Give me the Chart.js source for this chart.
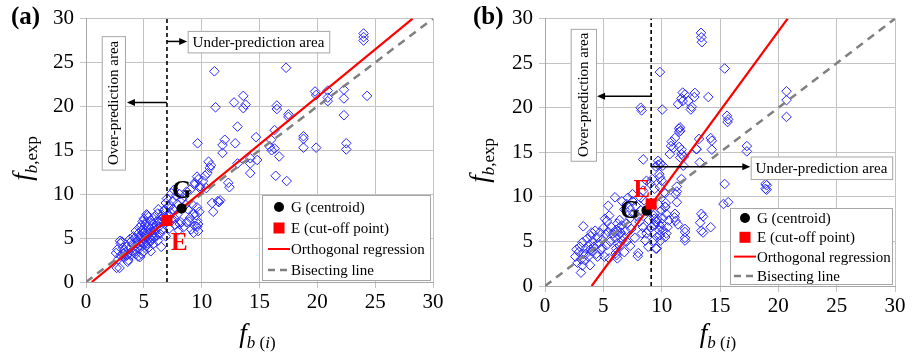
<!DOCTYPE html>
<html lang="en">
<head>
<meta charset="UTF-8">
<title>Orthogonal regression</title>
<script src="https://cdn.jsdelivr.net/npm/chart.js"></script>
<style>
  body { margin: 0; background: #fff; }
  .panel { position: absolute; top: 0; height: 355px; }
  #pa { left: 0; width: 455px; }
  #pb { left: 455px; width: 460px; }
</style>
</head>
<body>
<div class="panel" id="pa"><canvas id="chartA"></canvas></div>
<div class="panel" id="pb"><canvas id="chartB"></canvas></div>
<script>
// ---- data ----
const axisTicks = [0, 5, 10, 15, 20, 25, 30];

// panel (a): predicted f_b(i) and measured f_b,exp
const predA = [24.0,24.0,24.0,11.1,17.3,11.2,12.8,13.6,13.8,13.6,16.5,16.5,17.5,17.5,19.8,19.9,20.9,20.9,20.9,22.3,22.3,22.3,24.3,
  13.1,14.7,12.0,11.8,12.9,11.8,9.65,16.0,15.9,16.05,16.3,16.7,16.3,18.8,18.8,18.8,19.9,22.5,22.5,
  14.2,14.2,14.8,13.1,14.2,16.4,17.35,12.3,12.4,10.6,10.8,10.7,10.5,10.3,9.6,9.7,9.4,10.9,11.0,11.4,11.6,11.5,10.1,9.85,10.4,
  8.6,8.8,9.3,9.0,9.6,8.7,9.4,9.7,9.1,8.4,8.1,9.6,9.5,9.8,9.2,8.0,9.7,9.3,8.9,9.6,
  7.4,7.8,7.5,7.3,8.1,8.3,8.7,9.0,9.85,9.4,8.5,7.9,7.0,6.8,
  2.6,2.7,2.8,2.9,3.0,3.0,3.1,3.2,3.3,3.4,3.5,3.6,3.7,3.8,3.9,4.0,4.1,4.2,4.3,4.4,4.5,4.5,4.6,4.6,4.7,4.7,4.8,4.8,4.9,4.9,
  5.0,5.0,5.0,5.1,5.1,5.2,5.2,5.3,5.3,5.4,5.4,5.5,5.5,5.6,5.6,5.7,5.8,5.8,5.9,6.0,6.0,6.1,6.2,6.2,6.3,6.4,6.5,6.5,6.6,6.7,
  6.8,6.9,7.0,7.1,7.2,7.4,7.5,7.7,7.9,8.2,4.3,4.8,5.2,5.6,6.1,4.0,3.6,5.9,6.3,4.5,5.0,5.4,5.8,3.3,4.9,6.6,7.3,
  2.65,3.66,5.6,4.67,5.24,6.25,2.94,
  3.2,3.9,4.2,4.4,4.6,4.8,5.1,5.3,5.6,5.9,6.1,6.4,6.8,7.2,7.6,5.0,4.2,3.5,6.9,7.6];
const expA = [28.3,27.9,27.5,24.0,24.4,19.9,20.45,21.2,20.2,19.8,20.1,19.7,19.1,18.8,21.7,21.3,21.8,21.0,20.6,21.9,20.9,19.0,21.2,
  17.7,16.5,16.2,15.6,15.8,14.7,15.8,16.2,15.4,15.0,15.2,14.3,17.3,16.6,16.3,15.3,15.3,15.8,15.1,
  14.1,13.5,13.9,13.5,12.4,12.1,11.5,11.3,10.8,13.7,13.3,13.0,12.4,12.1,12.0,11.7,11.3,9.0,8.0,9.2,9.3,9.1,11.5,10.7,10.7,
  8.8,8.3,7.7,7.3,7.0,6.8,6.4,5.8,6.0,6.2,6.6,6.3,7.6,8.0,8.8,5.9,6.6,5.6,6.9,8.5,
  10.1,9.8,9.2,8.7,10.0,9.4,10.3,10.5,10.9,11.1,9.8,8.9,9.5,8.2,
  3.3,3.7,2.6,1.6,3.0,4.4,4.6,3.9,2.8,3.4,4.0,2.3,3.7,4.9,3.1,4.3,5.2,3.6,5.8,4.7,2.9,5.5,6.2,3.8,4.2,5.0,3.2,6.5,5.6,4.6,
  3.5,6.0,7.2,4.9,5.3,6.8,4.1,7.6,5.7,3.9,6.3,4.5,5.0,7.0,6.1,5.4,4.3,6.6,7.4,5.1,5.9,6.9,4.7,7.8,6.3,5.5,7.2,4.0,6.0,8.1,
  6.6,5.2,7.6,8.6,6.1,7.0,8.3,6.5,7.7,6.8,3.2,5.9,5.1,4.8,6.4,3.5,3.1,5.6,7.0,4.4,4.3,7.4,5.0,3.6,6.9,7.6,7.9,
  1.6,2.5,3.5,2.85,7.7,8.28,4.7,
  3.2,4.6,5.0,3.9,5.2,4.5,6.5,4.4,5.7,6.2,5.3,6.7,7.2,7.5,7.3,5.6,4.1,3.0,9.0,10.5];

// panel (b)
const predB = [13.37,13.4,13.45,9.85,15.4,8.2,8.28,10.05,11.8,12.0,11.7,11.8,11.4,12.28,12.57,12.5,12.85,12.8,14.0,
  15.6,15.7,15.65,20.7,20.7,20.7,11.5,11.5,11.14,10.86,10.8,11.0,10.7,11.5,11.7,11.7,11.6,11.9,
  13.2,12.97,13.26,14.2,14.3,14.3,17.3,17.3,19.0,19.0,15.4,15.3,15.7,13.4,13.55,13.3,13.4,13.55,14.2,12.0,12.0,12.0,12.0,
  11.3,11.14,11.2,11.4,11.1,11.7,11.3,11.3,11.2,11.85,10.2,10.35,10.3,
  8.42,8.7,8.4,6.0,5.42,5.14,5.5,3.28,3.08,8.0,7.95,6.14,6.2,6.07,9.57,3.86,
  9.7,9.9,10.1,9.8,9.85,10.0,9.4,9.85,10.3,
  9.4,9.35,9.55,10.0,9.8,10.1,9.85,9.5,9.3,8.85,8.7,9.1,8.6,8.85,8.3,8.4,10.3,10.4,10.6,10.4,10.3,9.9,
  6.2,6.4,6.1,6.5,6.3,6.0,6.6,6.2,6.4,6.1,6.6,6.0,6.7,5.8,6.4,
  2.6,2.8,2.9,3.0,3.1,3.2,3.3,3.4,3.5,3.6,3.7,3.8,3.9,4.0,4.1,4.2,4.3,4.4,4.5,4.6,4.7,4.8,4.9,5.0,5.1,5.2,5.3,5.4,5.5,5.6,
  2.7,3.9,4.5,5.3,5.7,4.0,3.5,4.9,3.2,
  7.2,7.5,7.1,7.8,7.3,7.6,7.0,7.9,8.2,7.4,6.8,7.0,6.9,8.1,7.7,7.3,7.0,6.8,8.5,8.2,7.5,6.6,
  9.2,9.0,9.5,9.7,11.57,11.6,13.0,18.9,18.9,
  9.6,9.9,10.1,9.4,9.6,10.0,9.7,10.5,8.9,9.3];
const expB = [28.4,27.9,27.35,24.0,24.4,20.0,19.7,19.8,21.7,21.5,21.05,20.75,20.4,20.75,20.1,19.8,21.66,21.2,21.2,
  19.1,18.7,18.4,21.85,20.85,18.97,17.65,17.3,16.6,16.2,15.7,15.5,14.8,15.6,15.3,14.8,14.4,14.5,
  16.5,15.35,13.86,16.6,16.3,15.3,15.7,15.1,11.3,10.8,11.45,9.2,9.4,8.1,7.8,7.1,6.2,6.0,6.6,6.4,6.05,5.4,5.1,
  9.4,8.1,7.3,6.9,7.7,12.0,11.15,10.6,10.3,13.5,10.5,9.3,8.9,
  14.2,11.8,10.7,9.95,9.0,7.55,7.9,6.7,1.5,3.7,3.35,3.46,3.1,3.7,4.2,2.34,
  14.05,13.7,13.5,12.55,12.2,11.8,10.9,11.1,10.4,
  8.1,7.55,7.2,7.0,6.25,6.25,5.7,4.2,5.1,6.25,5.9,6.6,5.1,4.4,5.9,6.6,8.85,8.1,7.35,5.9,5.5,5.1,
  7.0,6.6,6.3,6.0,5.7,5.4,5.1,4.8,4.5,4.2,6.8,6.0,5.6,5.9,7.4,
  3.3,2.6,3.8,4.4,3.0,4.9,3.6,2.9,4.2,5.3,3.3,4.6,5.6,3.9,5.0,4.4,6.2,3.6,5.4,4.8,6.0,4.1,5.2,6.5,3.3,5.8,4.6,6.1,3.1,5.0,
  4.1,4.1,3.3,7.3,6.6,6.0,3.6,4.3,2.3,
  8.8,9.5,9.9,9.0,7.6,8.1,7.0,7.8,8.5,6.4,8.6,9.2,6.2,7.2,5.4,4.5,5.0,3.8,9.6,9.9,10.3,9.5,
  12.0,11.5,13.4,13.6,17.8,17.4,15.35,11.45,10.9,
  7.5,6.7,7.6,6.9,5.5,8.5,9.2,6.6,7.4,7.9];

// special points and lines: [x, y]
const centroidA = [8.27, 8.39];
const cutoffA = [7.0, 7.0];
const regA = [[0.5, 0], [28.24, 30]];
const centroidB = [8.71, 8.47];
const cutoffB = [9.1, 9.2];
const regB = [[4.0, 0], [20.8, 30]];
const bisect = [[0, 0], [30, 30]];
const cutA = 7.0;
const cutB = 9.1;

const legendLabels = ['G (centroid)', 'E (cut-off point)', 'Orthogonal regression', 'Bisecting line'];

const SERIF = '"Liberation Serif", "DejaVu Serif", serif';
const BLUE = 'rgb(40,40,255)';

function pts(xs, ys) { return xs.map((x, i) => ({ x: x, y: ys[i] })); }
function xy(p) { return p.map(q => ({ x: q[0], y: q[1] })); }

function arrow(ctx, x1, y, x2) {
  const dir = x2 > x1 ? 1 : -1;
  ctx.strokeStyle = '#000'; ctx.fillStyle = '#000'; ctx.lineWidth = 1.5;
  ctx.beginPath(); ctx.moveTo(x1, y); ctx.lineTo(x2 - dir * 6, y); ctx.stroke();
  ctx.beginPath(); ctx.moveTo(x2, y); ctx.lineTo(x2 - dir * 8, y - 3.5); ctx.lineTo(x2 - dir * 8, y + 3.5); ctx.closePath(); ctx.fill();
}

// f_{b,exp} / f_{b (i)} with real sub-scripts
function drawSymbol(ctx, parts, cx, cy, rotate) {
  ctx.save();
  ctx.translate(cx, cy);
  if (rotate) ctx.rotate(-Math.PI / 2);
  let w = 0;
  parts.forEach(p => { ctx.font = p.font; w += ctx.measureText(p.t).width; });
  let x = -w / 2;
  ctx.fillStyle = '#000';
  ctx.textBaseline = 'alphabetic';
  parts.forEach(p => { ctx.font = p.font; ctx.fillText(p.t, x, p.dy); x += ctx.measureText(p.t).width; });
  ctx.restore();
}

const decor = {
  id: 'decor',
  afterDraw(chart, args, o) {
    const ctx = chart.ctx, xs = chart.scales.x, ys = chart.scales.y, ca = chart.chartArea;
    const X = v => xs.getPixelForValue(v), Y = v => ys.getPixelForValue(v);
    ctx.save();
    // panel letter
    ctx.font = 'bold 25px ' + SERIF; ctx.fillStyle = '#000'; ctx.textBaseline = 'middle'; ctx.textAlign = 'left';
    ctx.fillText(o.panel, o.panelX, 18);
    // axis titles
    const big = 'italic 27px ' + SERIF, sub = 'italic 17px ' + SERIF, subN = '17px ' + SERIF;
    drawSymbol(ctx, [{ t: 'f', font: big, dy: 0 }, { t: 'b', font: sub, dy: 6 }, { t: ',exp', font: subN, dy: 6 }], o.yTitleX, (ca.top + ca.bottom) / 2 + 8, true);
    drawSymbol(ctx, [{ t: 'f', font: big, dy: 0 }, { t: 'b ', font: sub, dy: 6 }, { t: '(', font: subN, dy: 6 }, { t: 'i', font: sub, dy: 6 }, { t: ')', font: subN, dy: 6 }], (ca.left + ca.right) / 2 - 2, 342, false);
    // area boxes
    ctx.lineWidth = 1; ctx.strokeStyle = '#a6a6a6'; ctx.fillStyle = '#fff';
    const ob = o.overBox, ub = o.underBox;
    let bx = X(ob[0]), by = Y(ob[1]), bw = X(ob[2]) - bx, bh = Y(ob[3]) - by;
    ctx.fillRect(bx, by, bw, bh); ctx.strokeRect(bx + 0.5, by + 0.5, bw, bh);
    ctx.save(); ctx.translate(bx + bw / 2 + 1, by + bh / 2); ctx.rotate(-Math.PI / 2);
    ctx.font = '15px ' + SERIF; ctx.fillStyle = '#000'; ctx.textAlign = 'center'; ctx.textBaseline = 'middle';
    ctx.fillText('Over-prediction area', 0, 0); ctx.restore();
    bx = X(ub[0]); by = Y(ub[1]); bw = X(ub[2]) - bx; bh = Y(ub[3]) - by;
    ctx.fillStyle = '#fff'; ctx.fillRect(bx, by, bw, bh); ctx.strokeRect(bx + 0.5, by + 0.5, bw, bh);
    ctx.font = '15px ' + SERIF; ctx.fillStyle = '#000'; ctx.textAlign = 'center'; ctx.textBaseline = 'middle';
    ctx.fillText('Under-prediction area', bx + bw / 2, by + bh / 2 + 1);
    // arrows from the cut-off line
    arrow(ctx, X(o.cut), Y(o.leftArrow[0]), X(o.leftArrow[1]));
    arrow(ctx, X(o.cut), Y(o.rightArrow[0]), X(o.rightArrow[1]));
    // G and E labels
    ctx.font = 'bold 25px ' + SERIF; ctx.textAlign = 'center'; ctx.textBaseline = 'middle';
    ctx.fillStyle = '#000'; ctx.fillText('G', X(o.gText[0]), Y(o.gText[1]));
    ctx.fillStyle = '#ff0000'; ctx.fillText('E', X(o.eText[0]), Y(o.eText[1]));
    // legend
    const L = o.legend;
    const lx = ca.right - 3 - L.w, ly = ca.bottom - 2 - L.h;
    ctx.fillStyle = '#fff'; ctx.fillRect(lx, ly, L.w, L.h);
    ctx.strokeStyle = '#a6a6a6'; ctx.lineWidth = 1; ctx.strokeRect(lx + 0.5, ly + 0.5, L.w, L.h);
    ctx.font = '15px ' + SERIF; ctx.textAlign = 'left'; ctx.textBaseline = 'middle';
    legendLabels.forEach((t, i) => {
      const cy = ly + L.first + i * L.step, mx = lx + L.mark;
      if (i === 0) { ctx.fillStyle = '#000'; ctx.beginPath(); ctx.arc(mx, cy, 5, 0, Math.PI * 2); ctx.fill(); }
      if (i === 1) { ctx.fillStyle = '#ff0000'; ctx.fillRect(mx - 5.5, cy - 5.5, 11, 11); }
      if (i === 2) { ctx.strokeStyle = '#ff0000'; ctx.lineWidth = 2; ctx.setLineDash([]); ctx.beginPath(); ctx.moveTo(mx - 11, cy); ctx.lineTo(mx + 11, cy); ctx.stroke(); }
      if (i === 3) { ctx.strokeStyle = '#808080'; ctx.lineWidth = 2.5; ctx.setLineDash([7, 5]); ctx.beginPath(); ctx.moveTo(mx - 11, cy); ctx.lineTo(mx + 12, cy); ctx.stroke(); ctx.setLineDash([]); }
      ctx.fillStyle = '#000'; ctx.fillText(t, lx + L.text, cy + 1);
    });
    ctx.restore();
  }
};

function makeChart(id, p) {
  const gridOpts = { color: '#c3c3c3', tickLength: 6, lineWidth: 1 };
  return new Chart(document.getElementById(id), {
    type: 'scatter',
    data: {
      datasets: [
        { data: [p.cutoff], pointStyle: 'rect', pointRadius: 7.8, backgroundColor: '#ff0000', borderColor: '#ff0000', borderWidth: 0, order: 0 },
        { data: [p.centroid], pointStyle: 'circle', pointRadius: 5.2, backgroundColor: '#000', borderColor: '#000', borderWidth: 0, order: 1 },
        { data: xy([[p.cut, 0], [p.cut, 30]]), showLine: true, pointRadius: 0, borderColor: '#000', borderWidth: 1.6, borderDash: [4, 3], order: 2 },
        { data: xy(p.reg), showLine: true, pointRadius: 0, borderColor: '#ff0000', borderWidth: 2.2, order: 3 },
        { data: xy(bisect), showLine: true, pointRadius: 0, borderColor: '#808080', borderWidth: 2.5, borderDash: [8, 6], order: 4 },
        { data: pts(p.xs, p.ys), pointStyle: 'rectRot', pointRadius: 4.8, backgroundColor: 'rgba(0,0,0,0)', borderColor: BLUE, borderWidth: 1, order: 5 }
      ]
    },
    options: {
      responsive: true,
      maintainAspectRatio: false,
      animation: false,
      layout: { padding: p.padding },
      plugins: { legend: { display: false }, tooltip: { enabled: false }, decor: p.decor },
      scales: {
        x: {
          type: 'linear', min: 0, max: 30,
          afterBuildTicks: s => { s.ticks = axisTicks.map(v => ({ value: v })); },
          afterFit: s => { s.height = p.xAxisH; },
          ticks: { color: '#000', font: { family: SERIF, size: 21 }, padding: 2 },
          grid: gridOpts, border: { color: '#a6a6a6' }
        },
        y: {
          type: 'linear', min: 0, max: 30,
          afterBuildTicks: s => { s.ticks = axisTicks.map(v => ({ value: v })); },
          afterFit: s => { s.width = p.yAxisW; },
          ticks: { color: '#000', font: { family: SERIF, size: 21 }, padding: 6 },
          grid: gridOpts, border: { color: '#a6a6a6' }
        }
      }
    },
    plugins: [decor]
  });
}

makeChart('chartA', {
  xs: predA, ys: expA, centroid: { x: centroidA[0], y: centroidA[1] }, cutoff: { x: cutoffA[0], y: cutoffA[1] },
  reg: regA, cut: cutA, yAxisW: 86, xAxisH: 73,
  padding: { left: 0, right: 22, top: 15, bottom: 0 },
  decor: {
    panel: '(a)', panelX: 11, yTitleX: 31, cut: cutA,
    overBox: [1.36, 28.0, 3.37, 12.8], underBox: [8.79, 28.6, 21.03, 26.15],
    leftArrow: [20.45, 3.54], rightArrow: [27.4, 8.75],
    gText: [8.27, 10.3], eText: [8.06, 4.4],
    legend: { w: 168, h: 85, first: 12, step: 21, mark: 17, text: 29 }
  }
});

makeChart('chartB', {
  xs: predB, ys: expB, centroid: { x: centroidB[0], y: centroidB[1] }, cutoff: { x: cutoffB[0], y: cutoffB[1] },
  reg: regB, cut: cutB, yAxisW: 90, xAxisH: 69,
  padding: { left: 0, right: 20, top: 17, bottom: 0 },
  decor: {
    panel: '(b)', panelX: 18, yTitleX: 33, cut: cutB,
    overBox: [2.2, 28.85, 4.37, 14.05], underBox: [17.63, 14.53, 29.76, 12.0],
    leftArrow: [21.3, 4.46], rightArrow: [13.38, 17.6],
    gText: [7.28, 8.4], eText: [8.29, 10.7],
    legend: { w: 162, h: 76, first: 10, step: 19.3, mark: 15, text: 27 }
  }
});
</script>
</body>
</html>
